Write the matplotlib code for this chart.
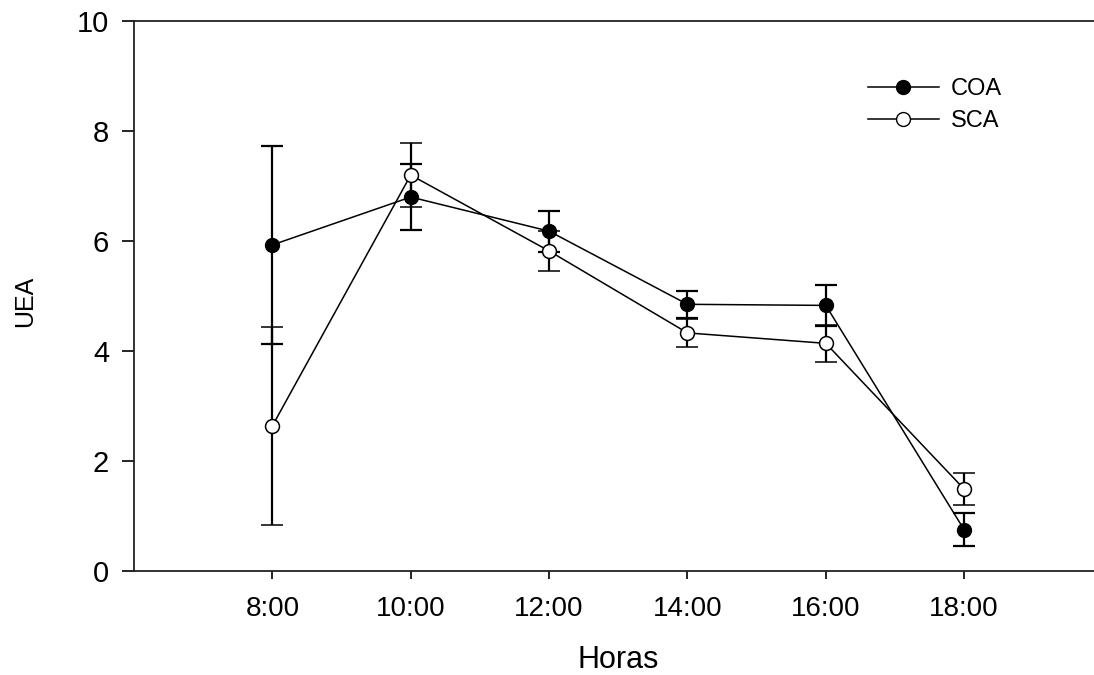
import matplotlib.pyplot as plt
from matplotlib.lines import Line2D

# data
horas = ['8:00', '10:00', '12:00', '14:00', '16:00', '18:00']
coa = [5.93, 6.80, 6.18, 4.85, 4.83, 0.75]
coa_err = [1.80, 0.60, 0.37, 0.25, 0.37, 0.30]
sca = [2.64, 7.20, 5.82, 4.33, 4.14, 1.49]
sca_err = [1.80, 0.58, 0.37, 0.26, 0.33, 0.29]

plt.rcParams['font.family'] = ['Liberation Sans', 'DejaVu Sans']

fig = plt.figure(figsize=(10.94, 6.75), dpi=100)
ax = fig.add_axes([0.1225, 0.154, 0.8853, 0.8148])

x = list(range(len(horas)))

ax.errorbar(x, coa, yerr=coa_err, color='black', linewidth=1.1,
            marker='o', markersize=10, markerfacecolor='black',
            markeredgecolor='black', elinewidth=1.6, capsize=8, capthick=1.6,
            zorder=3)
ax.errorbar(x, sca, yerr=sca_err, color='black', linewidth=1.1,
            marker='o', markersize=10, markerfacecolor='white',
            markeredgecolor='black', markeredgewidth=1.1,
            elinewidth=1.6, capsize=8, capthick=1.6,
            zorder=4)

ax.set_xlim(-1, 6)
ax.set_ylim(0, 10)
ax.set_xticks(x)
ax.set_xticklabels(horas)
ax.set_yticks([0, 2, 4, 6, 8, 10])

ax.spines['right'].set_visible(False)
for s in ['left', 'bottom', 'top']:
    ax.spines[s].set_linewidth(1.3)
    ax.spines[s].set_color('#222222')

ax.tick_params(axis='y', direction='out', length=9, width=1.2, labelsize=21, pad=9)
ax.tick_params(axis='x', direction='out', length=6, width=1.2, labelsize=20, pad=12)

ax.set_xlabel('Horas', fontsize=22)
ax.xaxis.set_label_coords(0.5, -0.135)
ax.set_ylabel('UEA', fontsize=18)
ax.yaxis.set_label_coords(-0.1, 0.49)

handles = [
    Line2D([], [], color='black', linewidth=1.1, marker='o', markersize=10,
           markerfacecolor='black', markeredgecolor='black'),
    Line2D([], [], color='black', linewidth=1.1, marker='o', markersize=10,
           markerfacecolor='white', markeredgecolor='black'),
]
ax.legend(handles, ['COA', 'SCA'], loc='upper left', bbox_to_anchor=(0.748, 0.914),
          frameon=False, fontsize=17, handlelength=3.0, handletextpad=0.5,
          labelspacing=0.45, borderaxespad=0)

fig.savefig('out.png', dpi=100)
